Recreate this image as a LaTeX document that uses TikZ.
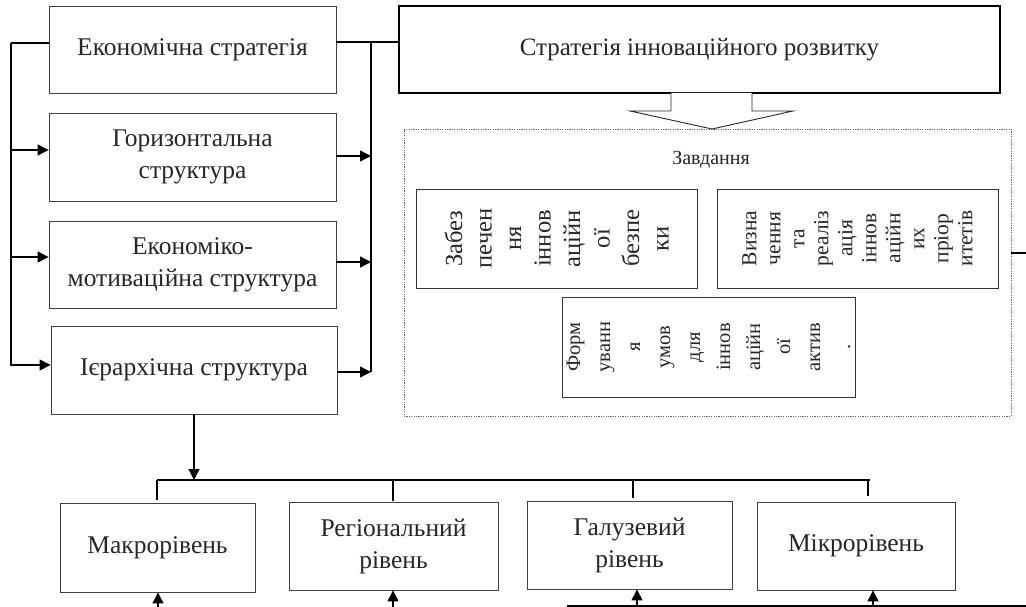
\documentclass[tikz,border=0pt]{standalone}
\usepackage{fontspec}
\setmainfont{Liberation Serif}
\usetikzlibrary{arrows.meta,calc}
\begin{document}
\begin{tikzpicture}[x=1pt,y=-1pt,
  box/.style={draw=black!75,line width=0.9pt,inner sep=0pt,align=center,text=black!85,font=\fontsize{25.5}{32}\selectfont},
  thickbox/.style={draw=black,line width=2pt,inner sep=0pt,align=center,text=black!85,font=\fontsize{25}{31}\selectfont},
  conn/.style={draw=black,line width=1.3pt},
  arr/.style={conn,-{Triangle[length=11pt,width=11pt]}},
  vtext/.style={rotate=90,align=center,text=black!85,inner sep=0pt}
]
\useasboundingbox (0,0) rectangle (1026,607);
% left column
\node[box,minimum width=287pt,minimum height=87pt] (b1) at (192.5,49.5) {Економічна стратегія};
\node[box,minimum width=287pt,minimum height=88pt] (b2) at (192.5,157) {Горизонтальна\\структура};
\node[box,minimum width=287pt,minimum height=87pt] (b3) at (192.5,264.5) {Економіко-\\мотиваційна структура};
\node[box,minimum width=286pt,minimum height=88pt] (b4) at (194,370) {Ієрархічна структура};
% strategy
\node[thickbox,minimum width=601pt,minimum height=87pt] (strat) at (699.5,49.5) {Стратегія інноваційного розвитку};
% dashed frame
\node[draw=black!60,line width=0.9pt,dash pattern=on 1.2pt off 1.2pt,minimum width=607pt,minimum height=287pt,inner sep=0pt] (frame) at (707.5,272.5) {};
\node[text=black!85,font=\fontsize{20}{22}\selectfont,inner sep=0pt] (zav) at (711,160) {Завдання};
\node[draw=black!80,line width=0.9pt,minimum width=281pt,minimum height=99pt,inner sep=0pt] (ta) at (556.5,238.5) {};
\node[vtext,font=\fontsize{24.5}{29.5}\selectfont] (taT) at (ta.center) {Забез\\печен\\ня\\іннов\\аційн\\ої\\безпе\\ки};
\node[draw=black!80,line width=0.9pt,minimum width=281pt,minimum height=99pt,inner sep=0pt] (tb) at (857.5,238.5) {};
\node[vtext,font=\fontsize{21.5}{24}\selectfont] (tbT) at (tb.center) {Визна\\чення\\та\\реаліз\\ація\\іннов\\аційн\\их\\пріор\\итетів};
\node[draw=black!80,line width=0.9pt,minimum width=293pt,minimum height=100pt,inner sep=0pt] (tc) at (708.5,347) {};
\node[vtext,font=\fontsize{20.5}{30}\selectfont] (tcT) at (tc.center) {Форм\\уванн\\я\\умов\\для\\іннов\\аційн\\ої\\актив\\.};
% open arrow
\draw[black!85,line width=0.9pt,fill=white] (671,93) -- (671,111) -- (630,111) -- (712,129) -- (793,111) -- (752,111) -- (752,93);
% bottom boxes
\node[box,minimum width=195pt,minimum height=89pt] (m1) at (157.5,547.5) {Макрорівень};
\node[box,minimum width=209pt,minimum height=88pt] (m2) at (393.5,546) {Регіональний\\рівень};
\node[box,minimum width=205pt,minimum height=88pt] (m3) at (629.5,545) {Галузевий\\рівень};
\node[box,minimum width=198pt,minimum height=88pt] (m4) at (856,546) {Мікрорівень};
% left bus
\coordinate (lT) at (11,43);
\coordinate (l2) at (11,150);
\coordinate (l3) at (11,257);
\coordinate (lB) at (11,365);
\draw[conn] (b1.west|-lT) -- (lT);
\draw[arr] (lT) -- (lB) -- (b4.west|-lB);
\draw[arr] (l2) -- (b2.west|-l2);
\draw[arr] (l3) -- (b3.west|-l3);
% right bus
\coordinate (rT) at (371,42);
\coordinate (r2) at (371,156);
\coordinate (r3) at (371,262);
\coordinate (rB) at (371,372);
\draw[conn] (b1.east|-rT) -- (strat.west|-rT);
\draw[conn] (rT) -- (rB);
\draw[arr] (b2.east|-r2) -- (r2);
\draw[arr] (b3.east|-r3) -- (r3);
\draw[arr] (b4.east|-rB) -- (rB);
% right stub
\coordinate (rs) at (1026,253);
\draw[conn] (frame.east|-rs) -- (rs);
% bottom bus
\coordinate (busL) at (157,480);
\coordinate (busR) at (870,480);
\coordinate (t2) at (393,480);
\coordinate (t3) at (633,480);
\coordinate (t4) at (868,480);
\draw[arr] (b4.south) -- (b4.south|-busL);
\draw[conn] (busL) -- (busR);
\draw[conn,shorten >=3pt] (busL) -- (m1.north-|busL);
\draw[conn,shorten >=1pt] (t2) -- (m2.north-|t2);
\draw[conn,shorten >=3pt] (t3) -- (m3.north-|t3);
\draw[conn,shorten >=6pt] (t4) -- (m4.north-|t4);
% bottom arrows
\coordinate (u1) at (158,607);
\coordinate (u2) at (393,607);
\coordinate (u3) at (637,606);
\coordinate (u4) at (873,606);
\coordinate (bl) at (567,606);
\coordinate (br) at (1026,606);
\draw[arr] (u1) -- (m1.south-|u1);
\draw[arr] (u2) -- (m2.south-|u2);
\draw[arr] (u3) -- (m3.south-|u3);
\draw[arr] (u4) -- (m4.south-|u4);
\draw[conn] (bl) -- (br);
\end{tikzpicture}
\end{document}
